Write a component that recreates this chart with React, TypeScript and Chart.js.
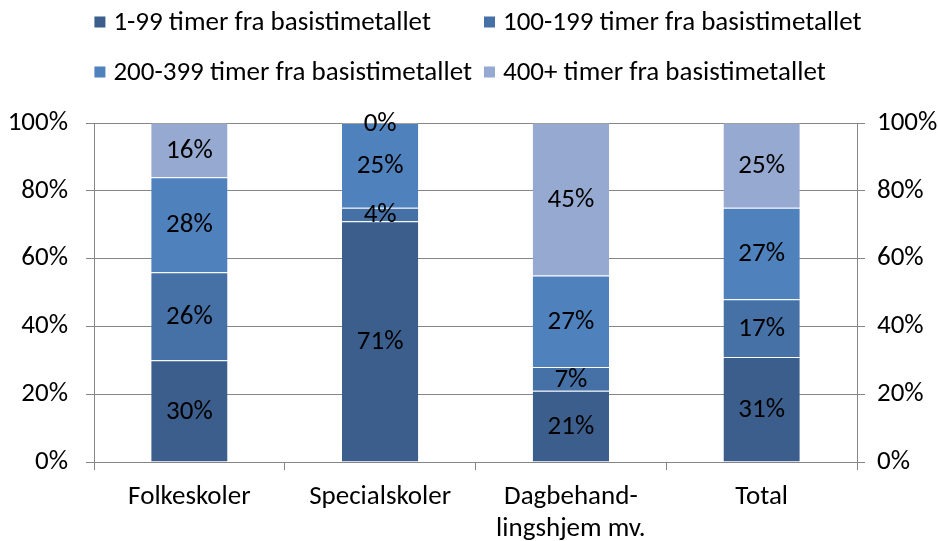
import React, { useEffect, useRef } from 'react';
import { Chart, registerables } from 'chart.js';

Chart.register(...registerables);

const categories: string[][] = [['Folkeskoler'], ['Specialskoler'], ['Dagbehand-', 'lingshjem mv.'], ['Total']];
const seriesNames = [
  '1-99 timer fra basistimetallet',
  '100-199 timer fra basistimetallet',
  '200-399 timer fra basistimetallet',
  '400+ timer fra basistimetallet',
];
const series1 = [30, 71, 21, 31];
const series2 = [26, 4, 7, 17];
const series3 = [28, 25, 27, 27];
const series4 = [16, 0, 45, 25];
const seriesColors = ['#3B5E8C', '#4571A7', '#4F81BD', '#95A9D1'];

const FONT = 'Carlito, Lato, sans-serif';
const FONT_SIZE = 27;
const GRID = '#868686';

const labelPlugin = {
  id: 'segLabels',
  afterDatasetsDraw(chart: any) {
    const ctx = chart.ctx;
    ctx.save();
    ctx.font = `${FONT_SIZE}px ${FONT}`;
    ctx.fillStyle = '#000';
    ctx.textAlign = 'center';
    ctx.textBaseline = 'middle';
    chart.data.datasets.forEach((ds: any, di: number) => {
      const meta = chart.getDatasetMeta(di);
      meta.data.forEach((el: any, i: number) => {
        const v = ds.data[i];
        ctx.fillText(`${v}%`, el.x, (el.y + el.base) / 2 + 1);
      });
    });
    ctx.restore();
  },
};

const legendPlugin = {
  id: 'gridLegend',
  afterDraw(chart: any) {
    const ctx = chart.ctx;
    ctx.save();
    ctx.font = `${FONT_SIZE}px ${FONT}`;
    ctx.textBaseline = 'middle';
    ctx.textAlign = 'left';
    const box = 11;
    const gap = 8;
    const colSpacing = 12;
    const cols = 2;
    const widths = seriesNames.map((n) => box + gap + ctx.measureText(n).width);
    const colW: number[] = [];
    for (let c = 0; c < cols; c++) {
      let m = 0;
      for (let i = c; i < seriesNames.length; i += cols) m = Math.max(m, widths[i]);
      colW.push(m);
    }
    const total = colW[0] + colSpacing + colW[1];
    const start = (chart.width - total) / 2 + 9;
    const rowY = [22, 72];
    seriesNames.forEach((n, i) => {
      const c = i % cols;
      const r = Math.floor(i / cols);
      const x = start + (c === 0 ? 0 : colW[0] + colSpacing);
      const y = rowY[r];
      ctx.fillStyle = seriesColors[i];
      ctx.fillRect(x, y - box / 2, box, box);
      ctx.fillStyle = '#000';
      ctx.fillText(n, x + box + gap, y + 1);
    });
    ctx.restore();
  },
};

export default function App() {
  const ref = useRef<HTMLCanvasElement | null>(null);
  useEffect(() => {
    document.body.style.margin = '0';
    if (!ref.current) return;
    Chart.defaults.font.family = FONT;
    Chart.defaults.font.size = FONT_SIZE;
    Chart.defaults.color = '#000';
    const data = [series1, series2, series3, series4];
    const chart = new Chart(ref.current, {
      type: 'bar',
      data: {
        labels: categories,
        datasets: data.map((d, i) => ({
          label: seriesNames[i],
          data: d,
          backgroundColor: seriesColors[i],
          borderColor: 'rgba(255,255,255,0.22)',
          borderWidth: { top: 1, left: 0, right: 0, bottom: 0 },
          borderSkipped: false,
          categoryPercentage: 0.4,
          barPercentage: 1,
        })),
      },
      plugins: [labelPlugin, legendPlugin],
      options: {
        animation: false,
        responsive: false,
        maintainAspectRatio: false,
        layout: { padding: { top: 123, left: 0, right: 0, bottom: 0 } },
        plugins: { legend: { display: false }, tooltip: { enabled: false } },
        scales: {
          x: {
            stacked: true,
            grid: { display: true, drawOnChartArea: false, drawTicks: true, tickLength: 8, color: GRID, offset: true },
            border: { display: true, color: GRID },
            ticks: { padding: 11, color: '#000', font: { size: FONT_SIZE, lineHeight: 32 / FONT_SIZE }, maxRotation: 0, autoSkip: false },
            afterFit: (s: any) => { s.height = 79; },
          },
          y: {
            stacked: true,
            min: 0,
            max: 100,
            position: 'left',
            grid: { color: GRID, tickLength: 8, drawTicks: true },
            border: { display: true, color: GRID },
            ticks: { stepSize: 20, padding: 18, color: '#000', callback: (v: any) => `${v}%` },
            afterFit: (s: any) => { s.width = 94; },
          },
          y2: {
            min: 0,
            max: 100,
            position: 'right',
            grid: { color: GRID, tickLength: 8, drawTicks: true, drawOnChartArea: false },
            border: { display: true, color: GRID },
            ticks: { stepSize: 20, padding: 12, color: '#000', callback: (v: any) => `${v}%` },
            afterFit: (s: any) => { s.width = 81; },
          },
        },
      },
    });
    return () => chart.destroy();
  }, []);
  return (
    <div style={{ width: 938, height: 541 }}>
      <canvas ref={ref} width={938} height={541} style={{ display: 'block', width: 938, height: 541 }} />
    </div>
  );
}
